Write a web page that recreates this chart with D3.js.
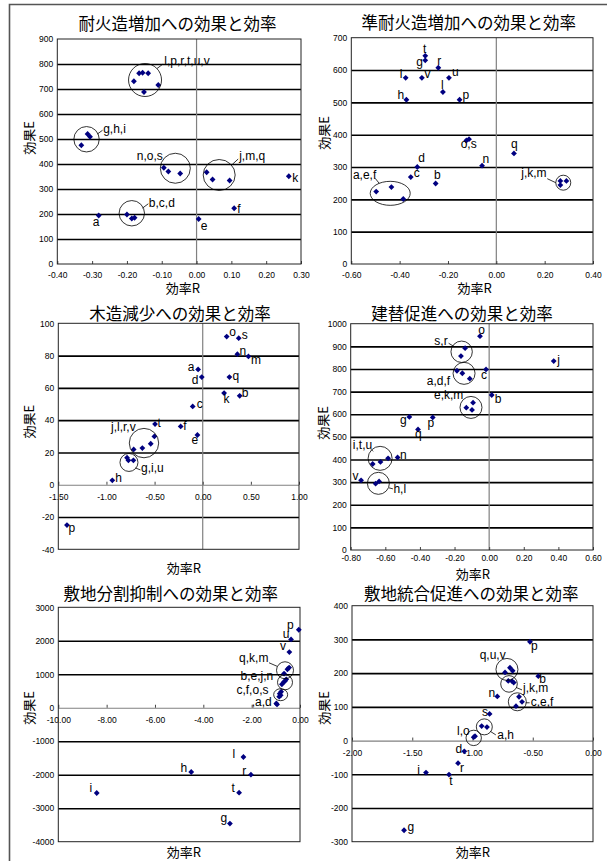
<!DOCTYPE html>
<html><head><meta charset="utf-8">
<script src="https://cdn.jsdelivr.net/npm/d3@7"></script>
<style>body{margin:0;background:#fff}svg{display:block}</style>
</head><body><svg id="c" width="607" height="861"></svg>
<script>
const ids = "abcdefghijklmnopqrstuv".split("");

// ---- data (order a..v) ----
const fireR = [-0.281,-0.200,-0.186,-0.178,0.006,0.108,-0.331,-0.313,-0.306,0.029,0.265,-0.180,0.046,-0.094,-0.081,-0.165,0.095,-0.155,-0.047,-0.139,-0.151,-0.110];
const fireE = [194,198,182,185,180,223,475,520,509,367,351,731,338,385,370,763,334,765,362,763,688,716];
const semiR = [-0.497,-0.251,-0.354,-0.327,-0.434,-0.385,-0.294,-0.372,-0.375,0.265,0.265,-0.221,0.290,-0.059,-0.124,-0.152,0.073,-0.240,-0.113,-0.294,-0.196,-0.308];
const semiE = [224,249,269,300,238,201,630,508,576,257,244,532,257,304,382,508,342,607,386,644,576,576];
const woodR = [-0.048,0.384,-0.104,-0.010,-0.055,-0.229,-0.786,-0.939,-0.772,-0.502,0.222,-0.540,0.475,0.360,0.249,-1.410,0.277,-0.627,0.374,-0.495,-0.720,-0.717];
const woodE = [71.4,55.1,48.5,66.7,30.8,36.1,16.7,2.7,15.1,29.9,56.8,25.4,79.5,80.9,91.8,-25,66.7,22.7,90.8,37.6,15.1,21.9];
const rebuildR = [-0.186,0.015,-0.018,-0.155,-0.093,-0.112,-0.461,-0.656,-0.673,0.373,-0.132,-0.636,-0.099,-0.529,-0.053,-0.326,-0.411,-0.163,-0.139,-0.628,-0.584,-0.740];
const rebuildE = [792,685,798,781,651,757,588,293,380,835,629,303,619,409,945,586,533,857,892,389,405,308];
const splitR = [-0.95,-0.57,-0.78,-0.98,-0.62,-0.84,-2.90,-4.50,-8.41,-0.68,-0.52,-2.34,-0.66,-0.75,-0.80,-0.05,-0.45,-2.03,-0.86,-2.52,-0.37,-0.44];
const splitE = [100,850,480,130,800,420,-3459,-1918,-2545,760,1150,-1471,1020,700,370,2330,1200,-1998,330,-2535,2040,1663];
const mergeR = [-0.924,-0.454,-0.614,-1.068,-0.589,-0.639,-1.568,-0.880,-1.386,-0.703,-0.672,-0.979,-0.658,-0.794,-0.990,-0.523,-0.730,-1.120,-0.858,-1.195,-0.689,-0.667];
const mergeE = [43,191,130,-32,115,102,-266,40,-95,177,176,13,172,131,10,293,202,-67,79,-101,216,207];

// ---- ticks ----
const fireXTicks = [-0.4,-0.3,-0.2,-0.1,0,0.1,0.2,0.3];
const fireYTicks = [0,100,200,300,400,500,600,700,800,900];
const semiXTicks = [-0.6,-0.4,-0.2,0,0.2,0.4];
const semiYTicks = [0,100,200,300,400,500,600,700];
const woodXTicks = [-1.5,-1,-0.5,0,0.5,1];
const woodYTicks = [-40,-20,0,20,40,60,80,100];
const rebuildXTicks = [-0.8,-0.6,-0.4,-0.2,0,0.2,0.4,0.6];
const rebuildYTicks = [0,100,200,300,400,500,600,700,800,900,1000];
const splitXTicks = [-10,-8,-6,-4,-2,0];
const splitYTicks = [-4000,-3000,-2000,-1000,0,1000,2000,3000];
const mergeXTicks = [-2,-1.5,-1,-0.5,0];
const mergeYTicks = [-300,-200,-100,0,100,200,300,400];

const titles = ["耐火造増加への効果と効率","準耐火造増加への効果と効率","木造減少への効果と効率","建替促進への効果と効率","敷地分割抑制への効果と効率","敷地統合促進への効果と効率"];

// ---- annotations: group circles (centre in data units) and labels ----
const fireGroups = [
 {t:"l,p,r,t,u,v", R:-0.148, E:736, rx:16.5, ry:16.5, dx:19.3, dy:-15, lead:[12,-11.5,18,-16]},
 {t:"g,h,i", R:-0.316, E:499, rx:12.7, ry:12.7, dx:16.6, dy:-6, lead:[10.5,-5,16,-9]},
 {t:"n,o,s", R:-0.061, E:383, rx:15, ry:15, dx:-38.6, dy:-8.3},
 {t:"j,m,q", R:0.065, E:356, rx:16, ry:15.5, dx:20, dy:-15, lead:[13,-10.5,19,-16]},
 {t:"b,c,d", R:-0.186, E:203, rx:12.7, ry:12.7, dx:17, dy:-6, lead:[10.5,-5,16.5,-9.5]}];
const fireSingles = [["a","a",-6,10],["e","e",2,10.6],["f","f",3,4.3],["k","k",3.5,6]];
const semiGroups = [
 {t:"a,e,f", R:-0.439, E:218.6, rx:20, ry:12, dx:-37.3, dy:-14.3, lead:[-15,-15,-11,-10]},
 {t:"j,k,m", R:0.277, E:251.5, rx:7.5, ry:7.5, dx:-42, dy:-6, lead:[-16,-4,-7.5,0]}];
const semiSingles = [["t","t",-2.3,-3],["g","g",-9,5.3],["r","r",-1,-3],["i","i",-6,0],["v","v",2.5,0.7],["u","u",3,-1.7],["l","l",-2,-2.7],["h","h",-9,-1],["p","p",3,-1],["o,s","o",-5.7,7.3],["n","n",0.5,-2.3],["q","q",-3,-5.7],["d","d",1,-4.7],["c","c",3,0.3],["b","b",-1.7,-4.3]];
const woodGroups = [
 {t:"j,l,r,v", R:-0.61, E:25.8, rx:14.7, ry:14.7, dx:-33, dy:-12.3},
 {t:"g,i,u", R:-0.766, E:13.8, rx:9, ry:9, dx:12, dy:10, lead:[6.5,5.5,11.5,7.5]}];
const woodSingles = [["o","o",2.5,-0.7],["s","s",3,0.7],["n","n",2,0.7],["m","m",2.5,7.3],["a","a",-10.3,1.7],["d","d",-10,6.7],["q","q",3,3.3],["k","k",-0.7,10],["b","b",2,1.3],["c","c",4,1.7],["t","t",2.5,3.3],["f","f",2.5,3.3],["e","e",-6,9],["h","h",3,2],["p","p",1.5,7.3]];
const rebuildGroups = [
 {t:"s,r", R:-0.159, E:876, rx:10.7, ry:10.7, dx:-27.3, dy:-6.7, lead:[-13,-8.5,-8,-5.5]},
 {t:"a,d,f", R:-0.145, E:780.6, rx:11, ry:11, dx:-37.3, dy:11.7},
 {t:"e,k,m", R:-0.105, E:630, rx:11, ry:11, dx:-37, dy:-8},
 {t:"i,t,u", R:-0.63, E:405, rx:12, ry:12, dx:-27.3, dy:-9, lead:[-9,-9,-7,-7]},
 {t:"h,l", R:-0.64, E:294.6, rx:11, ry:11, dx:15, dy:9.3, lead:[10.5,4.5,14.5,5.5]}];
const rebuildSingles = [["o","o",-1.7,-2],["c","c",-5,10],["b","b",3,8.3],["g","g",-9.3,7],["p","p",-5.3,10],["q","q",-3,9],["n","n",2.5,2],["v","v",-8.5,-0.3],["j","j",3.5,3]];
const splitGroups = [
 {t:"q,k,m", R:-0.62, E:1120, rx:8.5, ry:8.5, dx:-45.9, dy:-8.2, lead:[-16,-7.5,-8,-4]},
 {t:"b,e,j,n", R:-0.62, E:760, rx:7.5, ry:7.5, dx:-44.5, dy:-2.2},
 {t:"c,f,o,s", R:-0.80, E:390, rx:7, ry:6, dx:-44.2, dy:-0.3}];
const splitSingles = [["p","p",-11.7,-1],["u","u",-8.3,-1.7],["v","v",-9.3,-2],["l","l",-11,0.7],["h","h",-10.7,0],["r","r",-8.7,0],["i","i",-7.3,-1],["t","t",-7.7,-0.7],["g","g",-9.3,-1.7],[",a,d","a",-25.3,1.7]];
const mergeGroups = [
 {t:"q,u,v", R:-0.714, E:211, rx:11, ry:11, dx:-27.3, dy:-10},
 {t:"j,k,m", R:-0.697, E:168, rx:8.3, ry:8.3, dx:14, dy:8, lead:[7,3.5,13,6]},
 {t:"c,e,f", R:-0.628, E:115, rx:9, ry:9, dx:13.3, dy:4.3, lead:[8.5,1,12.3,1]},
 {t:"a,h", R:-0.902, E:40.6, rx:8, ry:8, dx:13, dy:11.7, lead:[6,4.5,11.5,8]},
 {t:"l,o", R:-0.99, E:7.9, rx:7.7, ry:7.7, dx:-16.7, dy:-2.7}];
const mergeSingles = [["p","p",1,8.3],["b","b",1,7.3],["n","n",-8.7,1],["s","s",-7.5,2],["d","d",-8.7,1.7],["r","r",2,8.7],["i","i",-8.7,1.7],["t","t",0.3,10],["g","g",3.5,1]];

// ---- layout ----
const layouts = [
 {x0:57.3,x1:301,y0:39,y1:264,tx:177.5,ty:22.7,xtx:183,xty:287,ytx:28,yty:138,off:11},
 {x0:351.3,x1:593,y0:37.7,y1:264,tx:468.8,ty:22.3,xtx:474.7,xty:287,ytx:323,yty:133,off:11},
 {x0:58.3,x1:299,y0:323.3,y1:549.3,tx:180,ty:312.7,xtx:184,xty:567.7,ytx:28,yty:421.7,off:12},
 {x0:350.7,x1:593,y0:323.7,y1:550,tx:462,ty:312.7,xtx:473,xty:573.3,ytx:322.3,yty:423,off:8.5},
 {x0:58.3,x1:300,y0:607.3,y1:841.7,tx:170.8,ty:593.3,xtx:184,xty:851.7,ytx:28,yty:708,off:12.3},
 {x0:352,x1:593,y0:605.7,y1:841.7,tx:471.3,ty:593.3,xtx:473,xty:851.7,ytx:323,yty:708,off:12}];

const panels = [
 {R:fireR,E:fireE,xT:fireXTicks,yT:fireYTicks,groups:fireGroups,singles:fireSingles},
 {R:semiR,E:semiE,xT:semiXTicks,yT:semiYTicks,groups:semiGroups,singles:semiSingles},
 {R:woodR,E:woodE,xT:woodXTicks,yT:woodYTicks,groups:woodGroups,singles:woodSingles},
 {R:rebuildR,E:rebuildE,xT:rebuildXTicks,yT:rebuildYTicks,groups:rebuildGroups,singles:rebuildSingles},
 {R:splitR,E:splitE,xT:splitXTicks,yT:splitYTicks,groups:splitGroups,singles:splitSingles},
 {R:mergeR,E:mergeE,xT:mergeXTicks,yT:mergeYTicks,groups:mergeGroups,singles:mergeSingles}];

const LAT = "'Liberation Sans', Arial, sans-serif";
const CJK = "'Noto Sans CJK JP', 'Noto Sans', sans-serif";
const fmtX = v => (v < -1e-9 ? "-" : "") + Math.abs(v).toFixed(2);
const diamond = "M0,-2.9L2.9,0L0,2.9L-2.9,0Z";

const svg = d3.select("#c");
svg.append("rect").attr("width",607).attr("height",861).attr("fill","#fff");
svg.append("path").attr("d","M9.5,861V4.5H607").attr("fill","none").attr("stroke","#555").attr("stroke-width",1.6);

panels.forEach((p,k) => {
  const L = layouts[k];
  const xd = [p.xT[0], p.xT[p.xT.length-1]], yd = [p.yT[0], p.yT[p.yT.length-1]];
  const x = d3.scaleLinear().domain(xd).range([L.x0, L.x1]);
  const y = d3.scaleLinear().domain(yd).range([L.y1, L.y0]);
  const g = svg.append("g");

  // y axis with gridlines
  const ya = g.append("g").attr("transform",`translate(${L.x0},0)`)
    .call(d3.axisLeft(y).tickValues(p.yT).tickSize(-(L.x1-L.x0)).tickPadding(4).tickFormat(d => String(d)));
  ya.attr("font-family",LAT).attr("font-size",8.5);
  ya.select(".domain").remove();
  ya.selectAll(".tick line")
    .attr("stroke", d => d === 0 ? "#808080" : "#000")
    .attr("stroke-width", d => d === 0 ? 1.2 : 1.6)
    .attr("display", d => (d === yd[0] || d === yd[1]) ? "none" : null);
  ya.selectAll(".tick text").attr("fill","#000");

  // zero vertical line
  if (xd[0] < 0 && xd[1] > 0) {
    g.append("line").attr("x1",x(0)).attr("x2",x(0)).attr("y1",L.y0).attr("y2",L.y1)
      .attr("stroke","#808080").attr("stroke-width",1.2);
  }

  // x axis at E=0 (or bottom)
  const axY = (yd[0] < 0 && yd[1] > 0) ? y(0) : L.y1;
  const xa = g.append("g").attr("transform",`translate(0,${axY})`)
    .call(d3.axisBottom(x).tickValues(p.xT).tickSize(-3).tickFormat(fmtX));
  xa.attr("font-family",LAT).attr("font-size",8.5);
  xa.select(".domain").remove();
  xa.selectAll(".tick line").attr("stroke","#444").attr("stroke-width",1);
  xa.selectAll(".tick text").attr("fill","#000").attr("y",L.off).attr("dy","0.35em");

  // plot border
  g.append("rect").attr("x",L.x0).attr("y",L.y0).attr("width",L.x1-L.x0).attr("height",L.y1-L.y0)
    .attr("fill","none").attr("stroke","#222").attr("stroke-width",1);

  // points
  const pts = ids.map((id,i) => ({id, r:p.R[i], e:p.E[i]}));
  const byId = Object.fromEntries(pts.map(d => [d.id, d]));
  g.selectAll("path.pt").data(pts).join("path").attr("class","pt")
    .attr("d",diamond).attr("fill","#000080")
    .attr("transform", d => `translate(${x(d.r)},${y(d.e)})`);

  // group circles, leaders, labels
  p.groups.forEach(gr => {
    const cx = x(gr.R), cy = y(gr.E);
    g.append("ellipse").attr("cx",cx).attr("cy",cy).attr("rx",gr.rx).attr("ry",gr.ry)
      .attr("fill","none").attr("stroke","#000").attr("stroke-width",0.8);
    if (gr.lead) g.append("line").attr("x1",cx+gr.lead[0]).attr("y1",cy+gr.lead[1])
      .attr("x2",cx+gr.lead[2]).attr("y2",cy+gr.lead[3]).attr("stroke","#000").attr("stroke-width",0.8);
    g.append("text").attr("x",cx+gr.dx).attr("y",cy+gr.dy).text(gr.t)
      .attr("font-family",LAT).attr("font-size",12).attr("fill","#000");
  });
  p.singles.forEach(s => {
    const d = byId[s[1]];
    g.append("text").attr("x",x(d.r)+s[2]).attr("y",y(d.e)+s[3]).text(s[0])
      .attr("font-family",LAT).attr("font-size",12).attr("fill","#000");
  });

  // titles
  g.append("text").attr("x",L.tx).attr("y",L.ty).attr("text-anchor","middle").attr("dominant-baseline","central")
    .attr("font-family",CJK).attr("font-size",16.5).attr("fill","#000").text(titles[k]);
  g.append("text").attr("x",L.xtx).attr("y",L.xty).attr("text-anchor","middle").attr("dominant-baseline","central")
    .attr("font-family",CJK).attr("font-size",13).attr("fill","#000").text("効率R");
  g.append("text").attr("transform",`translate(${L.ytx},${L.yty}) rotate(-90)`).attr("text-anchor","middle")
    .attr("dominant-baseline","central").attr("font-family",CJK).attr("font-size",13).attr("fill","#000").text("効果E");
});
</script></body></html>
